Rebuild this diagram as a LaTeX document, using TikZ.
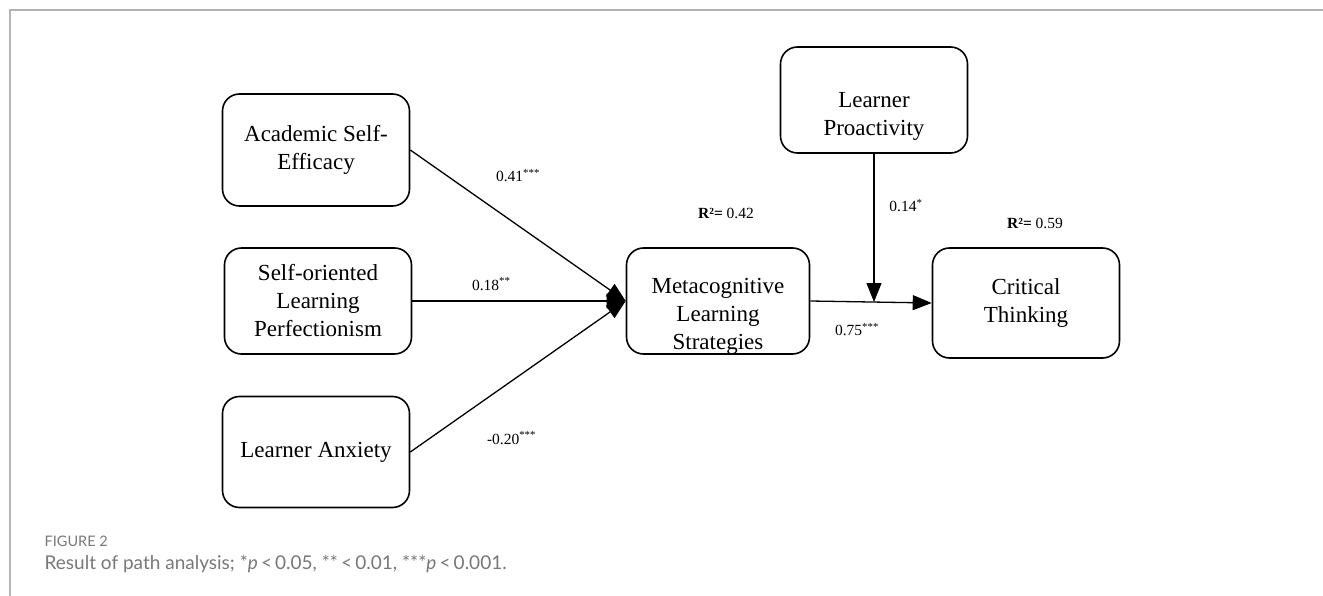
\documentclass[tikz,border=0pt]{standalone}
\usepackage{fontspec}
\setmainfont{Liberation Serif}
\newfontfamily\capfont{Lato}
\usepackage{tikz}
\usetikzlibrary{arrows.meta}
\definecolor{framegray}{RGB}{180,180,180}
\definecolor{capgray}{RGB}{120,120,120}

\begin{document}
\begin{tikzpicture}[x=1pt, y=-1pt, line width=1.3pt,
        var/.style={draw, line width=1.6pt, rounded corners=17pt, align=center,
            minimum width=187pt, minimum height=108pt, inner sep=0pt,
            font=\fontsize{23}{28}\selectfont},
        coef/.style={font=\fontsize{15.5}{18}\selectfont, inner sep=0pt},
        capt/.style={anchor=west, inner sep=0pt, text=capgray},
        >={Triangle[length=19pt, width=15pt]}]
        \useasboundingbox (0, 0) rectangle (1323, 596);
        \draw[framegray, line width=1.5pt] (1323, 10) -- (10, 10) -- (10, 596);

        \node[var, minimum height=112pt] (ASE) at (316, 150) {Academic Self-\\Efficacy};
        \node[var, minimum height=106pt] (SLP) at (318, 301) {Self-oriented\\Learning\\Perfectionism};
        \node[var, minimum height=111pt] (LA) at (316, 452) {Learner Anxiety};
        \node[var, minimum width=183pt, minimum height=106pt, text height=101pt] (MLS) at (718, 301) {Metacognitive\\Learning\\Strategies};
        \node[var, minimum height=106pt, text height=76pt] (LP) at (874, 100) {Learner\\Proactivity};
        \node[var, minimum height=110pt] (CT) at (1026, 303) {Critical\\Thinking};
        \coordinate (J) at (874, 302);

        \draw[->] (ASE.east) to node[coef, pos=.5, yshift=50pt]{0.41\textsuperscript{***}} (MLS.west);
        \draw[->] (SLP.east) to node[coef, pos=.37, yshift=17pt]{0.18\textsuperscript{**}} (MLS.west);
        \draw[->] (LA.east) to node[coef, pos=.47, yshift=-57pt]{-0.20\textsuperscript{***}} (MLS.west);
        \draw[->] (MLS.east) to node[coef, pos=.385, yshift=-28pt]{0.75\textsuperscript{***}} (CT.west);
        \draw[->] (LP.south) to node[coef, pos=.35, xshift=32pt]{0.14\textsuperscript{*}} (J);

        \node[coef] (R1) at (726, 213) {\textbf{R²=} 0.42};
        \node[coef] (R2) at (1035, 223) {\textbf{R²=} 0.59};

        \node[capt, font=\capfont\fontsize{14.5}{17}\selectfont] (fig) at (44, 541) {FIGURE 2};
        \node[capt, font=\capfont\fontsize{19}{22}\selectfont] (cap) at (44, 564)
            {Result of path analysis; *\textit{p}\,<\,0.05, **\,<\,0.01, ***\textit{p}\,<\,0.001.};
      \end{tikzpicture}
\end{document}
